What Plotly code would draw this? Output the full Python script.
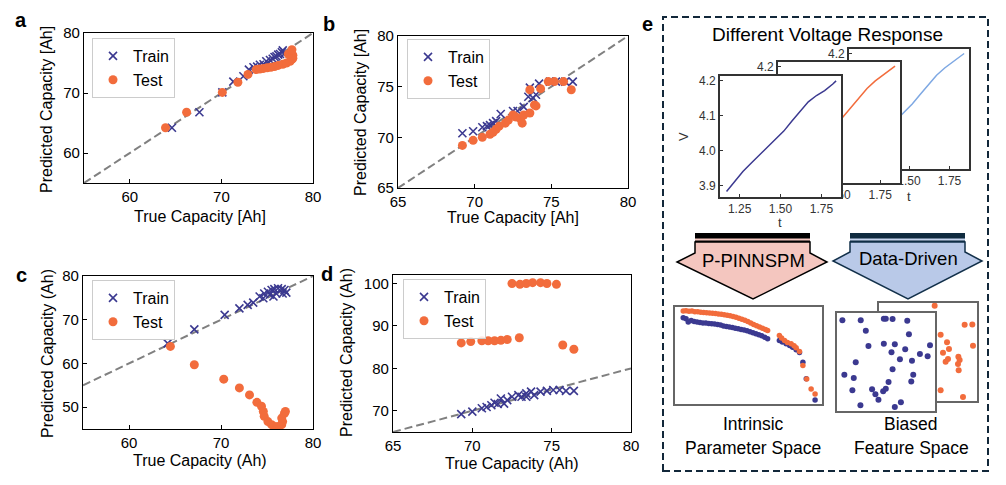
import plotly.graph_objects as go

W, H = 1006, 485
NAVY = "#3b3990"
ORANGE = "#f26c3c"
LIGHTBLUE = "#7ea8e3"
FONT = "Liberation Sans, Arial, sans-serif"

# ---- panel a ----
a_train_x = [64.6, 67.6, 70.1, 71.3, 72.4, 73.0, 73.5, 73.9, 74.2, 74.6, 74.9, 75.3, 75.6, 75.8, 76.0, 76.2, 76.4, 76.6, 76.7, 76.9]
a_train_y = [64.2, 66.8, 70.1, 71.9, 72.8, 73.9, 74.3, 74.4, 74.7, 74.8, 75.3, 75.5, 75.7, 76.0, 76.1, 76.4, 76.5, 76.8, 77.1, 76.6]
a_test_x = [63.9, 66.2, 70.1, 71.8, 72.9, 73.8, 74.2, 74.6, 75.0, 75.4, 75.8, 76.2, 76.7, 77.1, 77.5, 77.7, 77.8, 77.8, 77.6, 77.3, 77.7]
a_test_y = [64.2, 66.8, 70.1, 71.8, 73.1, 73.9, 74.0, 74.1, 74.2, 74.3, 74.4, 74.6, 74.8, 75.0, 75.3, 75.6, 75.8, 76.3, 76.7, 76.5, 77.2]

# ---- panel b ----
b_train_x = [69.2, 69.9, 70.5, 70.8, 71.0, 71.2, 71.4, 71.7, 72.5, 72.8, 73.2, 73.5, 73.6, 73.8, 74.0, 74.2, 74.9, 75.3, 75.9, 76.4]
b_train_y = [70.4, 70.6, 71.0, 71.1, 71.2, 71.4, 71.6, 72.3, 72.6, 72.6, 73.0, 74.0, 74.9, 73.9, 74.2, 75.3, 75.5, 75.5, 75.5, 75.5]
b_test_x = [69.2, 69.9, 70.5, 71.0, 71.2, 71.4, 71.6, 72.0, 72.2, 72.5, 72.7, 73.0, 73.1, 73.2, 73.6, 73.6, 73.9, 74.0, 74.3, 74.8, 75.2, 75.8, 76.3]
b_test_y = [69.2, 69.7, 70.0, 70.3, 70.5, 70.8, 71.1, 71.4, 71.7, 72.2, 72.0, 71.8, 71.4, 72.2, 74.7, 72.4, 73.2, 73.1, 74.8, 75.5, 75.5, 75.5, 74.7]

# ---- panel c ----
c_train_x = [64.2, 67.1, 70.4, 72.0, 72.9, 73.5, 74.2, 74.6, 74.7, 75.1, 75.3, 75.5, 75.7, 75.8, 76.0, 76.2, 76.6, 76.7, 76.9, 77.1]
c_train_y = [64.6, 67.8, 71.1, 72.6, 73.4, 73.9, 75.3, 74.9, 76.0, 76.4, 75.7, 76.8, 75.3, 77.0, 76.0, 77.2, 77.0, 76.0, 76.8, 76.2]
c_test_x = [64.5, 67.1, 70.3, 72.0, 73.1, 73.9, 74.4, 74.6, 74.7, 75.1, 75.5, 75.8, 76.2, 76.6, 76.7, 76.6, 76.9, 77.0, 76.0]
c_test_y = [63.9, 59.7, 56.4, 54.4, 52.8, 51.1, 50.2, 49.0, 47.9, 46.7, 46.0, 45.6, 45.6, 46.0, 46.7, 47.5, 48.6, 49.0, 44.8]

# ---- panel d ----
d_train_x = [69.3, 70.0, 70.6, 70.9, 71.2, 71.4, 71.6, 71.8, 72.0, 72.2, 72.5, 72.9, 73.1, 73.4, 73.4, 73.7, 73.9, 74.3, 74.7, 75.1, 75.5, 75.9, 76.4]
d_train_y = [69.2, 69.8, 70.6, 70.9, 71.3, 71.9, 71.6, 72.9, 71.7, 72.5, 73.3, 73.7, 73.3, 74.1, 73.3, 74.5, 73.7, 74.5, 74.7, 74.9, 74.9, 74.7, 74.7]
d_test_x = [69.3, 69.9, 70.6, 71.0, 71.4, 71.8, 72.2, 72.96, 72.5, 73.0, 73.4, 73.8, 74.3, 74.7, 75.3, 75.7, 76.4]
d_test_y = [86.0, 86.3, 86.5, 86.5, 86.5, 86.6, 86.8, 87.2, 100.0, 99.8, 100.0, 100.2, 100.2, 100.0, 99.8, 85.5, 84.5]

# ---- panel e: voltage responses ----
v_t = [1.17, 1.22, 1.27, 1.32, 1.37, 1.42, 1.47, 1.52, 1.57, 1.62, 1.67, 1.72, 1.77, 1.82, 1.84]
v_navy = [3.883, 3.912, 3.940, 3.964, 3.987, 4.010, 4.032, 4.056, 4.085, 4.113, 4.140, 4.158, 4.172, 4.191, 4.200]
v_orange = [3.876, 3.905, 3.933, 3.958, 3.982, 4.005, 4.029, 4.054, 4.082, 4.110, 4.138, 4.160, 4.178, 4.194, 4.202]
v_blue = [3.880, 3.908, 3.935, 3.961, 3.984, 4.007, 4.030, 4.055, 4.083, 4.111, 4.138, 4.159, 4.176, 4.193, 4.201]

# ---- panel e: intrinsic parameter space ----
ip_orange_x = [5.6, 7.5, 9.5, 11.5, 13.5, 15.5, 17.5, 19.5, 21.5, 23.5, 25.5, 27.5, 29.5, 31.5, 33.5, 35.5, 37.5, 39.5, 41.5, 43.5,
               45.5, 47.5, 49.5, 51.5, 53.5, 55.5, 57.5, 59.5, 61.5, 63.0, 71.0, 72.5, 74.5, 76.5, 79.0, 81.0, 82.4, 84.7, 87.0, 89.6, 92.6, 95.3]
ip_orange_y = [95.9, 96.2, 95.5, 95.8, 95.2, 95.0, 94.6, 94.4, 94.1, 93.8, 93.6, 93.2, 92.9, 92.5, 92.0, 91.6, 90.9, 90.2, 89.4, 88.4,
               87.4, 86.3, 85.0, 83.4, 82.0, 80.6, 79.3, 78.0, 76.9, 75.9, 70.7, 68.0, 65.5, 63.5, 62.0, 60.0, 58.0, 54.0, 39.7, 25.9, 15.5, 10.3]
ip_navy_x = [5.6, 7.5, 9.0, 11.0, 13.0, 15.0, 17.0, 19.0, 21.0, 23.0, 25.0, 27.0, 29.0, 31.0, 33.0, 35.0, 37.0, 39.0, 41.0, 43.0,
             45.0, 47.0, 49.0, 51.0, 53.0, 55.0, 57.0, 59.0, 61.0, 63.0, 71.0, 73.0, 75.6, 78.0, 80.0, 82.4, 84.7, 87.0, 89.3, 95.3]
ip_navy_y = [89.0, 88.0, 84.5, 86.0, 85.0, 84.5, 84.0, 83.5, 83.5, 83.0, 82.8, 82.5, 82.0, 81.5, 80.5, 80.0, 79.3, 78.8, 78.0, 77.5,
             76.9, 76.2, 75.5, 74.5, 73.5, 72.5, 71.5, 70.3, 68.8, 67.2, 65.5, 63.8, 62.0, 60.3, 58.6, 56.0, 53.0, 43.0, 26.0, 4.0]

# ---- panel e: biased feature space ----
bf_navy_x = [5.5, 24.2, 47.8, 49.8, 56.7, 71.7, 29.4, 73.4, 32.1, 47.8, 59.0, 55.6, 69.6, 94.9, 84.6, 92.5, 64.2,
             76.5, 19.1, 56.7, 7.5, 17.1, 77.8, 52.6, 75.8, 15.7, 35.8, 39.2, 47.1, 49.8, 42.3, 23.9, 65.2, 59.0]
bf_navy_y = [92.5, 92.5, 94.2, 94.2, 93.8, 92.1, 81.8, 78.4, 66.4, 68.5, 68.2, 59.9, 63.0, 67.1, 58.2, 55.8, 52.7,
             51.4, 49.7, 42.5, 37.0, 33.6, 37.0, 29.5, 30.1, 21.2, 22.3, 17.1, 20.2, 22.6, 11.6, 5.8, 8.9, 4.1]
bf_orange_x = [56.8, 87.4, 95.2, 95.9, 69.4, 71.4, 65.3, 70.4, 68.0, 81.0, 82.3, 80.6, 81.3, 85.7, 62.9, 62.9, 20.0, 35.0, 45.0, 10.0]
bf_orange_y = [97.3, 77.7, 78.1, 56.5, 59.9, 53.1, 49.3, 42.8, 40.1, 45.2, 41.8, 37.7, 31.5, 4.1, 67.5, 11.0, 70.0, 50.0, 30.0, 20.0]


def px(x):
    return x / W


def py(y):
    return 1 - y / H


def ax_id(n, letter):
    return letter if n == 1 else f"{letter}{n}"


def ax_key(n, letter):
    return f"{letter}axis" if n == 1 else f"{letter}axis{n}"


fig = go.Figure()
layout_axes = {}


def make_axes(n, box, xr, yr, style, xticks=None, yticks=None, xtext=None, ytext=None):
    x0, y0, x1, y1 = box
    layout_axes[ax_key(n, "x")] = dict(domain=[px(x0), px(x1)], range=xr, anchor=ax_id(n, "y"),
                                       tickvals=xticks, ticktext=xtext, **style)
    layout_axes[ax_key(n, "y")] = dict(domain=[py(y1), py(y0)], range=yr, anchor=ax_id(n, "x"),
                                       tickvals=yticks, ticktext=ytext, **style)


main_style = dict(showline=True, mirror=True, linecolor="black", linewidth=1.2, ticks="inside", ticklen=4,
                  tickcolor="black", showgrid=False, zeroline=False,
                  tickfont=dict(size=15, color="black", family=FONT))
inset_style = dict(showline=True, mirror=True, linecolor="#333333", linewidth=1.6, ticks="inside", ticklen=3,
                   tickcolor="#333333", showgrid=False, zeroline=False,
                   tickfont=dict(size=12, color="#333333", family=FONT))
blank_style = dict(showline=True, mirror=True, linecolor="#666666", linewidth=1.5, ticks="",
                   showticklabels=False, showgrid=False, zeroline=False)


def add_panel(n, tx, ty, sx, sy, diag, legend):
    xa, ya = ax_id(n, "x"), ax_id(n, "y")
    fig.add_trace(go.Scatter(x=diag, y=diag, mode="lines", xaxis=xa, yaxis=ya, showlegend=False,
                             line=dict(color="#808080", width=2, dash="8px,4px")))
    fig.add_trace(go.Scatter(x=tx, y=ty, mode="markers", name="Train", xaxis=xa, yaxis=ya, legend=legend,
                             marker=dict(symbol="x-thin", size=8, color=NAVY, line=dict(width=1.6, color=NAVY))))
    fig.add_trace(go.Scatter(x=sx, y=sy, mode="markers", name="Test", xaxis=xa, yaxis=ya, legend=legend,
                             marker=dict(symbol="circle", size=9, color=ORANGE)))


add_panel(1, a_train_x, a_train_y, a_test_x, a_test_y, [55, 80], "legend")
add_panel(2, b_train_x, b_train_y, b_test_x, b_test_y, [65, 80], "legend2")
add_panel(3, c_train_x, c_train_y, c_test_x, c_test_y, [55, 80], "legend3")
add_panel(4, d_train_x, d_train_y, d_test_x, d_test_y, [65, 80], "legend4")

make_axes(1, (84, 33, 313, 183), [55, 80], [55, 80], main_style, [60, 70, 80], [60, 70, 80])
make_axes(2, (398, 36, 628, 188), [65, 80], [65, 80], main_style, [65, 70, 75, 80], [65, 70, 75, 80])
make_axes(3, (83, 276, 313, 429), [55, 80], [45, 80], main_style, [60, 70, 80], [50, 60, 70, 80])
make_axes(4, (393, 275, 631, 432), [65, 80], [65, 102], main_style, [65, 70, 75, 80], [70, 80, 90, 100])

# empty helper subplot inside the front inset, so that plotly gives the
# front inset its own background and it covers the middle one
fig.add_trace(go.Scatter(x=[0], y=[0], mode="lines", xaxis="x5", yaxis="y5", showlegend=False, hoverinfo="skip"))
layout_axes["xaxis5"] = dict(domain=[px(724), px(760)], range=[0, 1], anchor="y5", visible=False)
layout_axes["yaxis5"] = dict(domain=[py(194), py(186)], range=[0, 1], anchor="x5", visible=False)

# voltage insets: back to front
vx = [1.25, 1.5, 1.75]
vxt = ["1.25", "1.50", "1.75"]
vy = [3.9, 4.0, 4.1, 4.2]
vyt = ["3.9", "4.0", "4.1", "4.2"]
for n, box, vals, col in [(6, (849, 49, 969, 169), v_blue, LIGHTBLUE),
                          (7, (778, 62, 900, 183), v_orange, ORANGE),
                          (8, (720, 76, 841, 197), v_navy, NAVY)]:
    fig.add_trace(go.Scatter(x=v_t, y=vals, mode="lines", xaxis=ax_id(n, "x"), yaxis=ax_id(n, "y"),
                             showlegend=False, line=dict(color=col, width=1.5)))
    make_axes(n, box, [1.13, 1.87], [3.867, 4.214], inset_style, vx, vy, vxt, vyt)

# biased feature space (orange behind navy)
fig.add_trace(go.Scatter(x=bf_orange_x, y=bf_orange_y, mode="markers", xaxis="x9", yaxis="y9", showlegend=False,
                         marker=dict(size=6, color=ORANGE)))
make_axes(9, (879, 303, 977, 401), [0, 100], [0, 100], blank_style)
fig.add_trace(go.Scatter(x=bf_navy_x, y=bf_navy_y, mode="markers", xaxis="x10", yaxis="y10", showlegend=False,
                         marker=dict(size=6, color=NAVY)))
make_axes(10, (837, 313, 935, 411), [0, 100], [0, 100], blank_style)

# intrinsic parameter space
fig.add_trace(go.Scatter(x=ip_navy_x, y=ip_navy_y, mode="markers", xaxis="x11", yaxis="y11", showlegend=False,
                         marker=dict(size=5.5, color=NAVY)))
fig.add_trace(go.Scatter(x=ip_orange_x, y=ip_orange_y, mode="markers", xaxis="x11", yaxis="y11", showlegend=False,
                         marker=dict(size=5.5, color=ORANGE)))
make_axes(11, (675, 307, 822, 404), [0, 100], [0, 100], blank_style)


def legend_at(x, y):
    return dict(x=px(x), y=py(y), xanchor="left", yanchor="top", bgcolor="rgba(255,255,255,0.85)",
                bordercolor="#cccccc", borderwidth=1, font=dict(size=16, color="black", family=FONT),
                itemwidth=30, tracegroupgap=0)


annotations = []


def text(x, y, s, size=16, angle=0, bold=False, color="black"):
    if bold:
        s = f"<b>{s}</b>"
    annotations.append(dict(x=px(x), y=py(y), xref="paper", yref="paper", text=s, showarrow=False,
                            textangle=angle, xanchor="center", yanchor="middle",
                            font=dict(size=size, color=color, family=FONT)))


# panel letters
text(21, 20, "a", 20, bold=True)
text(329, 24, "b", 20, bold=True)
text(21, 275, "c", 20, bold=True)
text(327, 274, "d", 20, bold=True)
text(647, 24, "e", 20, bold=True)

# axis titles
text(200, 217, "True Capacity [Ah]")
text(47, 110, "Predicted Capacity [Ah]", angle=-90)
text(513, 218, "True Capacity [Ah]")
text(360, 113, "Predicted Capacity [Ah]", angle=-90)
text(200, 460, "True Capacity (Ah)")
text(47, 354, "Predicted Capacity (Ah)", angle=-90)
text(512, 463, "True Capacity (Ah)")
text(346, 353, "Predicted Capacity (Ah)", angle=-90)

# panel e texts
text(827, 35, "Different Voltage Response", 19)
text(683, 137, "V", 13, angle=-90, color="#333333")
text(780, 223, "t", 13, color="#333333")
text(909, 196, "t", 13, color="#333333")
text(753, 424, "Intrinsic", 17.5)
text(753, 448, "Parameter Space", 17.5)
text(911, 424, "Biased", 17.5)
text(911, 448, "Feature Space", 17.5)

shapes = []


def path(points):
    return "M " + " L ".join(f"{px(x)},{py(y)}" for x, y in points) + " Z"


def rect(x0, y0, x1, y1, fill, line=None, width=0, dash=None):
    shapes.append(dict(type="rect", xref="paper", yref="paper", x0=px(x0), x1=px(x1), y0=py(y1), y1=py(y0),
                       fillcolor=fill, line=dict(color=line or fill, width=width, dash=dash), layer="below"))


# arrows
rect(695, 233, 810, 242, "black")
rect(695, 238.5, 810, 240.5, "#f4c6bf")
shapes.append(dict(type="path", xref="paper", yref="paper", layer="below", fillcolor="#f4c6bf",
                   line=dict(color="black", width=1.5),
                   path=path([(695, 242), (695, 253), (677, 262), (753, 299), (827, 262), (810, 253), (810, 242)])))
rect(850, 233, 965, 242, "#0f2b3f")
rect(850, 238.5, 965, 240.5, "#c6d4ee")
shapes.append(dict(type="path", xref="paper", yref="paper", layer="below", fillcolor="#b9c9e8",
                   line=dict(color="#12304a", width=1.5),
                   path=path([(850, 242), (850, 252), (833, 261), (908, 299), (982, 261), (965, 252), (965, 242)])))
text(753, 260, "P-PINNSPM", 18.5)
text(908, 258, "Data-Driven", 18.5)

# dashed frame round panel e
shapes.append(dict(type="rect", xref="paper", yref="paper", x0=px(663), x1=px(988), y0=py(471), y1=py(17),
                   line=dict(color="#12283a", width=2, dash="7px,4px"), fillcolor="rgba(0,0,0,0)"))

fig.update_layout(
    width=W, height=H,
    margin=dict(l=0, r=0, t=0, b=0),
    template="none",
    paper_bgcolor="white", plot_bgcolor="white",
    font=dict(family=FONT, color="black"),
    legend=legend_at(92, 38),
    legend2=legend_at(407, 39),
    legend3=legend_at(92, 280),
    legend4=legend_at(403, 279),
    annotations=annotations,
    shapes=shapes,
    **layout_axes,
)

# drop the page's default body margin so the figure sits at the window corner
fig.write_html("out.html", config={"displayModeBar": False},
               post_script="document.body.style.margin = '0';")
